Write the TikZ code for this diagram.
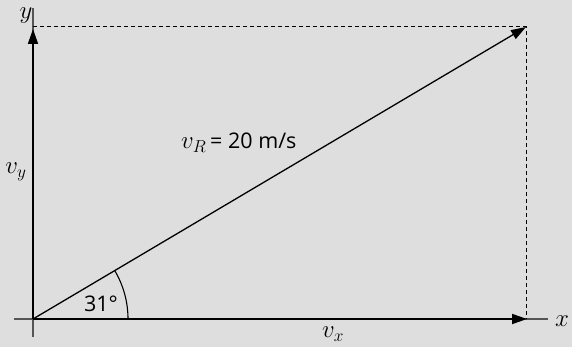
\documentclass[tikz,border=0pt]{standalone}
\usepackage{fontspec}
\setmainfont{Open Sans}
\usetikzlibrary{arrows.meta,calc}
\definecolor{bg}{HTML}{DEDEDE}
\definecolor{axisgray}{HTML}{555555}
\tikzset{
  vec/.style={line width=1.8pt, -{Triangle[length=15pt,width=10pt]}},
  diag/.style={line width=1.3pt, -{Triangle[length=15pt,width=10pt]}},
  axisext/.style={line width=1.1pt, draw=axisgray},
  guide/.style={line width=1pt, dash pattern=on 4pt off 3pt},
  lbl/.style={inner sep=0pt, font=\fontsize{21.5}{24}\selectfont},
  mlbl/.style={inner sep=0pt, font=\fontsize{23}{26}\selectfont},
}
\begin{document}
\begin{tikzpicture}[x=1pt,y=-1pt]
\fill[bg] (0,0) rectangle (572,347);
\useasboundingbox (0,0) rectangle (572,347);
\coordinate (O) at (33,319);
\coordinate (L) at (14,319);
\coordinate (D) at (33,337);
\coordinate (XE) at (548,319);
\coordinate (YE) at (33,8);
\coordinate (XT) at (527,319);
\coordinate (YT) at (33,29);
\coordinate (R) at (526,27);
\coordinate (TL) at (33,27);
\coordinate (BR) at (526,319);
% thin axis lines
\draw[axisext] (L) -- (XE);
\draw[axisext] (D) -- (YE);
% dashed guides
\draw[guide] (TL) -- (R) -- (BR);
% vectors
\draw[vec] (O) -- (XT);
\draw[vec] (O) -- (YT);
\draw[diag] (O) -- (R);
% angle arc
\draw[line width=1.1pt] ($(O)+(95,0)$) arc[start angle=0, end angle=-30.6, radius=95];
% labels
\node[mlbl] (xl) at (562,321) {\(x\)};
\node[mlbl] (yl) at (26,16) {\(y\)};
\node[mlbl] (vy) at (16,172) {\(v_y\)};
\node[mlbl] (vx) at (333,334) {\(v_x\)};
\node[mlbl, anchor=base west] (vrv) at (181,149) {\(v_R\)};
\node[lbl, anchor=base west] (vr) at (210,149) {= 20 m/s};
\node[lbl] (ang) at (101,304) {31°};
\end{tikzpicture}
\end{document}
